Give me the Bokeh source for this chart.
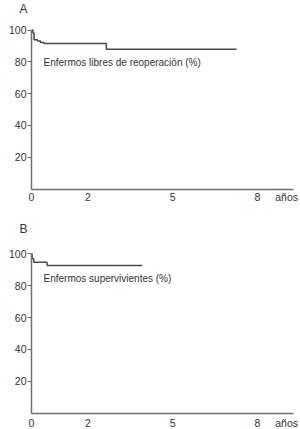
from bokeh.plotting import figure
from bokeh.layouts import column
from bokeh.models import Range1d, FixedTicker, Label, LinearAxis
from bokeh.embed import file_html
from bokeh.resources import INLINE

# Panel A: enfermos libres de reoperación
a_years = [0, 0.05, 0.09, 0.21, 0.32, 0.44, 2.65, 7.26]
a_pct = [100, 98.1, 93.9, 93.1, 92.1, 91.5, 87.9, 87.9]
# Panel B: enfermos supervivientes
b_years = [0, 0.02, 0.08, 0.55, 3.92]
b_pct = [100, 96.9, 94.7, 92.6, 92.6]

x_ticks = [0, 2, 5, 8]
y_ticks = [20, 40, 60, 80, 100]
panel_letters = ["A", "B"]
annotations = ["Enfermos libres de reoperación (%)", "Enfermos supervivientes (%)"]
x_unit = "años"

FONT = "Liberation Sans"
TXT = "#333333"
AX = "#707070"
W = 300
X0_PX = 31.0       # pixel column of year 0
PX_PER_YEAR = 28.25
X_AXIS_END = 9.27  # years, end of the drawn x axis line
UNIT_POS = 9.03    # where "años" sits


def make_panel(xs, ys, letter, note, height, y0_px, px_per_unit, label_standoff,
               letter_y_px, note_y_px):
    xr = Range1d(-X0_PX / PX_PER_YEAR, (W - X0_PX) / PX_PER_YEAR)
    yr = Range1d(-(height - y0_px) / px_per_unit, y0_px / px_per_unit)
    p = figure(width=W, height=height, output_backend="svg", toolbar_location=None,
               x_range=xr, y_range=yr, x_axis_location=None, y_axis_location=None,
               min_border=0)
    p.min_border_left = 0
    p.min_border_right = 0
    p.min_border_top = 0
    p.min_border_bottom = 0
    p.outline_line_color = None
    p.xgrid.visible = False
    p.ygrid.visible = False
    p.background_fill_color = "white"
    p.border_fill_color = "white"

    p.step(xs, ys, mode="after", line_color="#4a4a4a", line_width=1.5)

    xaxis = LinearAxis(fixed_location=0, bounds=(0, X_AXIS_END),
                       ticker=FixedTicker(ticks=x_ticks + [UNIT_POS]),
                       major_label_overrides={UNIT_POS: x_unit})
    yaxis = LinearAxis(fixed_location=0, bounds=(0, 100),
                       ticker=FixedTicker(ticks=y_ticks))
    for ax in (xaxis, yaxis):
        ax.axis_line_color = AX
        ax.axis_line_width = 1.5
        ax.major_tick_line_color = AX
        ax.minor_tick_line_color = None
        ax.major_label_text_font = FONT
        ax.major_label_text_font_size = "10.5px"
        ax.major_label_text_color = TXT
    xaxis.major_tick_out = 0
    xaxis.major_tick_in = 0
    xaxis.major_label_standoff = label_standoff
    yaxis.major_tick_out = 4
    yaxis.major_tick_in = 0
    yaxis.major_label_standoff = 1
    p.add_layout(xaxis, "below")
    p.add_layout(yaxis, "left")

    p.add_layout(Label(x=(23 - X0_PX) / PX_PER_YEAR, y=(y0_px - letter_y_px) / px_per_unit,
                       text=letter, text_font=FONT, text_font_size="12px", text_color=TXT,
                       text_align="center", text_baseline="middle"))
    p.add_layout(Label(x=(43 - X0_PX) / PX_PER_YEAR, y=(y0_px - note_y_px) / px_per_unit,
                       text=note, text_font=FONT, text_font_size="10px", text_color=TXT,
                       text_align="left", text_baseline="middle"))
    return p


pa = make_panel(a_years, a_pct, panel_letters[0], annotations[0], 215, 188.5, 1.59, 2, 8, 62)
pb = make_panel(b_years, b_pct, panel_letters[1], annotations[1], 214, 197.7, 1.594, 4, 13, 63)

layout = column(pa, pb, spacing=0)
open("out.html", "w").write(file_html(layout, INLINE))
